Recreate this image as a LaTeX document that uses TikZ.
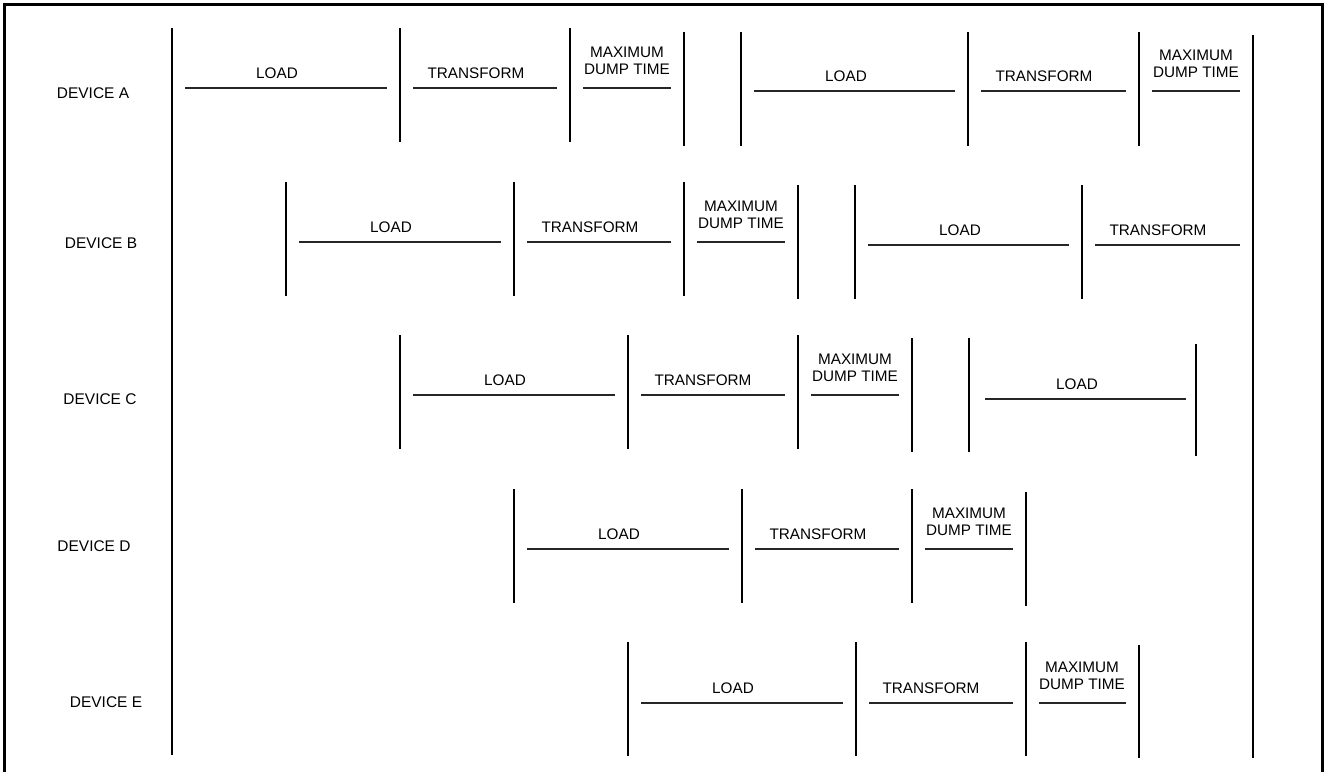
\documentclass[tikz,border=0pt]{standalone}
\usepackage{fontspec}
\setmainfont{Liberation Sans}
\usepackage{tikz}
\usetikzlibrary{positioning}

\begin{document}
\begin{tikzpicture}
[x=0.02cm, y=-0.02cm, line width=1pt,
frame/.style={draw, line width=0.06cm},
vline/.style={draw, line width=0.04cm},
hline/.style={draw, line width=0.03cm, black!85},
devtxt/.style={inner sep=0pt, font=\fontsize{8.8}{10}\selectfont},
phasetxt/.style={inner sep=0pt, font=\fontsize{8.7}{10}\selectfont, align=center}]

\useasboundingbox (0,0) rectangle (1327,771);
\clip (0,0) rectangle (1327,771);

% outer frame, open at the bottom
\draw[frame] (4.5,790) -- (4.5,4) -- (1322.5,4) -- (1322.5,790);

% time limits
\draw[vline] (172,28) -- (172,755);
\draw[vline] (1253,35) -- (1253,758);

% device names
\node[devtxt] (deva) at (93,93) {DEVICE A};
\node[devtxt] (devb) at (101,243) {DEVICE B};
\node[devtxt] (devc) at (100,399) {DEVICE C};
\node[devtxt] (devd) at (94,546) {DEVICE D};
\node[devtxt] (deve) at (106,702) {DEVICE E};

% device A
\draw[vline] (400,28) -- (400,142);
\draw[vline] (570,28) -- (570,142);
\draw[vline] (684,32) -- (684,146);
\draw[vline] (741,32) -- (741,146);
\draw[vline] (968,32) -- (968,146);
\draw[vline] (1139,32) -- (1139,146);
\draw[hline] (185,88) -- (387,88);
\draw[hline] (413,88) -- (557,88);
\draw[hline] (583,88) -- (671,88);
\draw[hline] (754,91) -- (955,91);
\draw[hline] (981,91) -- (1126,91);
\draw[hline] (1152,91) -- (1240,91);
\node[phasetxt] (loada1) at (277,73) {LOAD};
\node[phasetxt] (trana1) at (476,73) {TRANSFORM};
\node[phasetxt] (dumpa1) at (627,61) {MAXIMUM\\DUMP TIME};
\node[phasetxt] (loada2) at (846,76) {LOAD};
\node[phasetxt] (trana2) at (1044,76) {TRANSFORM};
\node[phasetxt] (dumpa2) at (1196,64) {MAXIMUM\\DUMP TIME};

% device B
\draw[vline] (286,182) -- (286,296);
\draw[vline] (514,182) -- (514,296);
\draw[vline] (684,182) -- (684,296);
\draw[vline] (798,185) -- (798,299);
\draw[vline] (855,185) -- (855,299);
\draw[vline] (1082,185) -- (1082,299);
\draw[hline] (299,242) -- (501,242);
\draw[hline] (527,242) -- (671,242);
\draw[hline] (697,242) -- (785,242);
\draw[hline] (868,245) -- (1069,245);
\draw[hline] (1095,245) -- (1240,245);
\node[phasetxt] (loadb1) at (391,227) {LOAD};
\node[phasetxt] (tranb1) at (590,227) {TRANSFORM};
\node[phasetxt] (dumpb1) at (741,215) {MAXIMUM\\DUMP TIME};
\node[phasetxt] (loadb2) at (960,230) {LOAD};
\node[phasetxt] (tranb2) at (1158,230) {TRANSFORM};

% device C
\draw[vline] (400,335) -- (400,449);
\draw[vline] (628,335) -- (628,449);
\draw[vline] (798,335) -- (798,449);
\draw[vline] (912,338) -- (912,452);
\draw[vline] (969,338) -- (969,452);
\draw[vline] (1196,344) -- (1196,456);
\draw[hline] (413,395) -- (615,395);
\draw[hline] (641,395) -- (785,395);
\draw[hline] (811,395) -- (899,395);
\draw[hline] (985,399) -- (1186,399);
\node[phasetxt] (loadc1) at (505,380) {LOAD};
\node[phasetxt] (tranc1) at (703,380) {TRANSFORM};
\node[phasetxt] (dumpc1) at (855,368) {MAXIMUM\\DUMP TIME};
\node[phasetxt] (loadc2) at (1077,384) {LOAD};

% device D
\draw[vline] (514,489) -- (514,603);
\draw[vline] (742,489) -- (742,603);
\draw[vline] (912,489) -- (912,603);
\draw[vline] (1026,492) -- (1026,606);
\draw[hline] (527,549) -- (729,549);
\draw[hline] (755,549) -- (899,549);
\draw[hline] (925,549) -- (1013,549);
\node[phasetxt] (loadd1) at (619,534) {LOAD};
\node[phasetxt] (trand1) at (818,534) {TRANSFORM};
\node[phasetxt] (dumpd1) at (969,522) {MAXIMUM\\DUMP TIME};

% device E
\draw[vline] (628,642) -- (628,756);
\draw[vline] (856,642) -- (856,756);
\draw[vline] (1026,642) -- (1026,756);
\draw[vline] (1139,645) -- (1139,758);
\draw[hline] (641,703) -- (843,703);
\draw[hline] (869,703) -- (1013,703);
\draw[hline] (1039,703) -- (1126,703);
\node[phasetxt] (loade1) at (733,688) {LOAD};
\node[phasetxt] (trane1) at (931,688) {TRANSFORM};
\node[phasetxt] (dumpe1) at (1082,676) {MAXIMUM\\DUMP TIME};
\end{tikzpicture}
\end{document}
